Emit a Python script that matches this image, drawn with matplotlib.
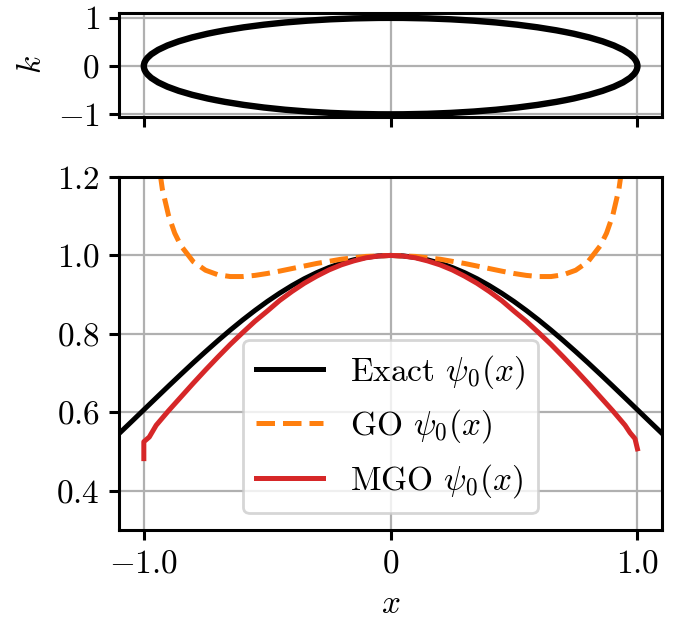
import numpy as np
import matplotlib
matplotlib.use('Agg')
import matplotlib.pyplot as plt
from matplotlib.patches import Ellipse

plt.rcParams['font.family'] = 'serif'
plt.rcParams['font.serif'] = ['cmr10']
plt.rcParams['mathtext.fontset'] = 'cm'
plt.rcParams['font.size'] = 12
plt.rcParams['axes.unicode_minus'] = False
plt.rcParams['axes.linewidth'] = 1.1
plt.rcParams['xtick.major.width'] = 1.1
plt.rcParams['ytick.major.width'] = 1.1

# phase-space curve: turning points and max momentum
x_turn = 1.0
k_max = 1.0

# exact wavefunction, read for x >= 0 (curve is symmetric)
exact_x_half = [0.0, 0.05, 0.1, 0.15, 0.2, 0.25, 0.3, 0.35, 0.4, 0.45, 0.5, 0.55,
                0.6, 0.65, 0.7, 0.75, 0.8, 0.85, 0.9, 0.95, 1.0, 1.05, 1.1]
exact_y_half = [1.0, 0.9988, 0.9950, 0.9888, 0.9802, 0.9692, 0.9560, 0.9406, 0.9231,
                0.9037, 0.8825, 0.8596, 0.8353, 0.8096, 0.7827, 0.7548, 0.7262, 0.6968,
                0.6670, 0.6368, 0.6065, 0.5762, 0.5461]

# GO wavefunction, read for x >= 0 (symmetric, blows up at turning points)
go_x_half = [0.0, 0.1, 0.2, 0.3, 0.4, 0.45, 0.5, 0.55, 0.6, 0.65, 0.7, 0.75, 0.8,
             0.85, 0.875, 0.9, 0.925, 0.95]
go_y_half = [1.0, 0.9975, 0.9904, 0.9795, 0.9665, 0.9600, 0.9540, 0.9491, 0.9462,
             0.9462, 0.9508, 0.9623, 0.9843, 1.0251, 1.0570, 1.1021, 1.1691, 1.2788]

# MGO wavefunction
mgo_x = [-1.0, -1.0, -0.978, -0.95, -0.9, -0.85, -0.8, -0.75, -0.7, -0.65, -0.6,
         -0.55, -0.5, -0.45, -0.4, -0.35, -0.3, -0.25, -0.2, -0.15, -0.1, -0.05,
         0.0, 0.05, 0.1, 0.15, 0.2, 0.25, 0.3, 0.35, 0.4, 0.45, 0.5, 0.55, 0.6,
         0.65, 0.7, 0.75, 0.8, 0.85, 0.9, 0.95, 0.97, 0.99, 1.0]
mgo_y = [0.482, 0.525, 0.537, 0.567, 0.604, 0.639, 0.674, 0.708, 0.741, 0.773, 0.803,
         0.832, 0.858, 0.885, 0.908, 0.929, 0.947, 0.963, 0.976, 0.986, 0.994, 0.9985,
         1.0, 0.9985, 0.994, 0.986, 0.976, 0.963, 0.947, 0.929, 0.908, 0.885, 0.858,
         0.832, 0.803, 0.773, 0.741, 0.708, 0.674, 0.639, 0.604, 0.567, 0.548, 0.533,
         0.507]

exact_x = np.concatenate([-np.array(exact_x_half[:0:-1]), exact_x_half])
exact_y = np.concatenate([exact_y_half[:0:-1], exact_y_half])
go_x = np.concatenate([-np.array(go_x_half[:0:-1]), go_x_half])
go_y = np.concatenate([go_y_half[:0:-1], go_y_half])

fig = plt.figure(figsize=(3.385, 3.105), dpi=200)
ax_top = fig.add_axes([0.176, 0.812, 0.802, 0.167])
ax = fig.add_axes([0.176, 0.1465, 0.802, 0.5685])

# top panel: ray manifold
ax_top.add_patch(Ellipse((0, 0), 2 * x_turn, 2 * k_max, fill=False,
                         edgecolor='black', lw=2.3, zorder=3))
ax_top.set_xlim(-1.1, 1.1)
ax_top.set_ylim(-1.05, 1.1)
ax_top.set_xticks([-1, 0, 1])
ax_top.set_xticklabels([])
ax_top.set_yticks([-1, 0, 1])
ax_top.set_yticklabels(['$-1$', '$0$', '$1$'])
ax_top.set_ylabel('$k$')
ax_top.grid(True)

# bottom panel: wavefunctions
ax.plot(exact_x, exact_y, color='black', lw=1.8, label=r'Exact $\psi_0(x)$')
ax.plot(go_x, go_y, color='#ff7f0e', lw=1.8, ls='--', label=r'GO $\psi_0(x)$')
ax.plot(mgo_x, mgo_y, color='#d62728', lw=1.8, label=r'MGO $\psi_0(x)$')
ax.set_xlim(-1.1, 1.1)
ax.set_ylim(0.3, 1.2)
ax.set_xticks([-1, 0, 1])
ax.set_xticklabels(['$-1.0$', '$0$', '$1.0$'])
ax.set_yticks([0.4, 0.6, 0.8, 1.0, 1.2])
ax.set_yticklabels(['$0.4$', '$0.6$', '$0.8$', '$1.0$', '$1.2$'])
ax.set_xlabel('$x$')
ax.grid(True)
ax.legend(loc='lower center', fontsize=12)

fig.savefig('out.png', dpi=200)
